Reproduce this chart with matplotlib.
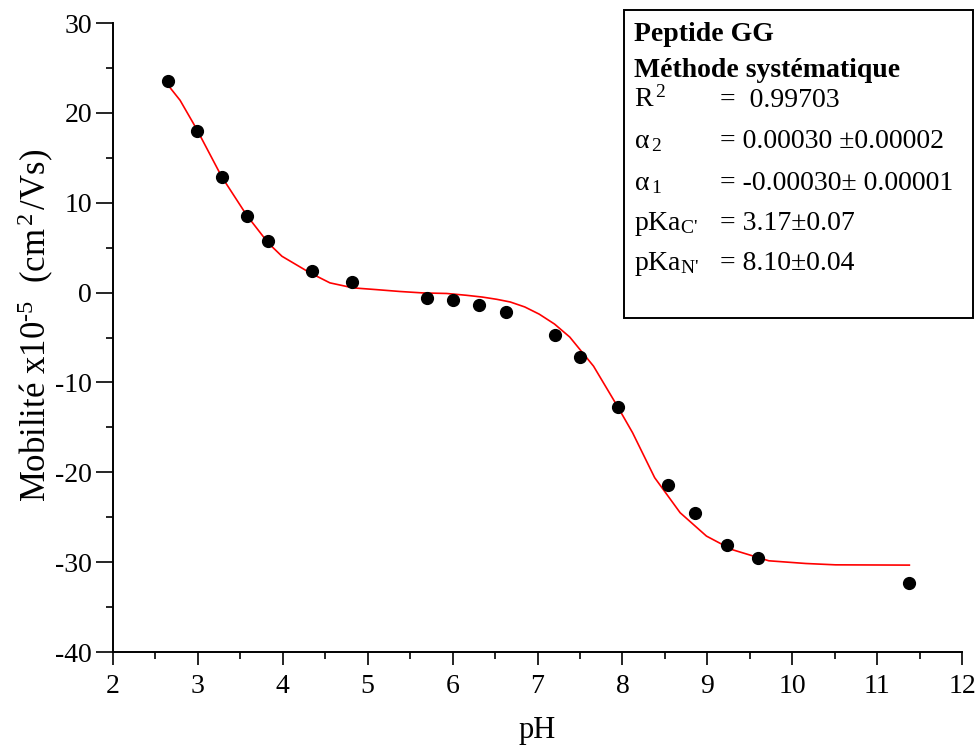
import numpy as np
import matplotlib.pyplot as plt
from matplotlib.patches import Rectangle
from matplotlib.ticker import MultipleLocator

plt.rcParams['font.family'] = ['Liberation Serif', 'DejaVu Serif']
plt.rcParams['mathtext.fontset'] = 'custom'
plt.rcParams['mathtext.rm'] = 'Liberation Serif'
plt.rcParams['mathtext.it'] = 'Liberation Serif'
plt.rcParams['mathtext.bf'] = 'Liberation Serif:bold'
plt.rcParams['axes.unicode_minus'] = False

# measured points
ph_data = [2.65, 2.985, 3.28, 3.575, 3.83, 4.34, 4.82, 5.70, 6.00, 6.31,
           6.63, 7.21, 7.50, 7.95, 8.54, 8.855, 9.23, 9.60, 11.38]
mob_data = [23.5, 18.0, 12.9, 8.56, 5.78, 2.44, 1.14, -0.63, -0.82, -1.35,
            -2.11, -4.74, -7.15, -12.78, -21.37, -24.56, -28.07, -29.56, -32.37]

# fitted curve
ph_fit = [2.63, 2.79, 2.985, 3.28, 3.575, 3.83, 3.99, 4.32, 4.555, 4.83,
          5.10, 5.38, 5.65, 5.93, 6.16, 6.35, 6.52, 6.68, 6.85, 7.02,
          7.2, 7.38, 7.66, 7.94, 8.12, 8.38, 8.68, 8.99, 9.29, 9.725,
          10.16, 10.51, 11.38]
mob_fit = [23.3, 21.4, 18.2, 12.9, 8.6, 5.5, 4.04, 2.2, 1.08, 0.52,
           0.33, 0.12, -0.04, -0.1, -0.3, -0.5, -0.75, -1.05, -1.6, -2.4,
           -3.5, -4.95, -8.19, -12.63, -15.6, -20.6, -24.5, -27.1, -28.6, -29.85,
           -30.15, -30.3, -30.33]

fig = plt.figure(figsize=(9.77, 7.48), dpi=100)
ax = fig.add_axes([113/977, 1-652/748, (962-113)/977, (652-23)/748])

ax.plot(ph_fit, mob_fit, color='red', lw=1.2, zorder=2)
ax.plot(ph_data, mob_data, 'o', color='black', ms=8.5, zorder=3)

ax.set_xlim(2, 12)
ax.set_ylim(-40, 30)
ax.xaxis.set_major_locator(MultipleLocator(1))
ax.xaxis.set_minor_locator(MultipleLocator(0.5))
ax.yaxis.set_major_locator(MultipleLocator(10))
ax.yaxis.set_minor_locator(MultipleLocator(5))

for s in ['top', 'right']:
    ax.spines[s].set_visible(False)
for s in ['left', 'bottom']:
    ax.spines[s].set_linewidth(1.4)

ax.tick_params(axis='both', which='major', direction='out', length=9, width=1.2, labelsize=20)
ax.tick_params(axis='both', which='minor', direction='out', length=5, width=1.2)
ax.tick_params(axis='y', which='major', length=12, pad=3)
ax.tick_params(axis='x', which='major', pad=7)

ax.set_xlabel('pH', fontsize=22, labelpad=12)
ax.set_ylabel(r'Mobilité x10$^{\text{-5}}$  (cm$^{\,2\,}$/Vs)', fontsize=25)
ax.yaxis.set_label_coords((56-113)/849, (652-325)/629)

# parameters box
W, H = 977, 748
fig.patches.append(Rectangle((624/W, 1-318/H), (973-624)/W, (318-10)/H,
                             transform=fig.transFigure, fill=False,
                             edgecolor='black', lw=1.4, zorder=5))

x0 = 634/W
x1 = 720/W
fs = 20
fig.text(x0, 1-41/H, 'Peptide GG', fontsize=fs, fontweight='bold', va='baseline')
fig.text(x0, 1-77/H, 'Méthode systématique', fontsize=fs, fontweight='bold', va='baseline')
rows = [(107, r'R$^{\,2}$', '=  0.99703'),
        (148, r'α$_{\,2}$', '= 0.00030 ±0.00002'),
        (190, r'α$_{\,1}$', '= -0.00030± 0.00001'),
        (230, r'pKa$_{\mathrm{C}\text{\'}}$', '= 3.17±0.07'),
        (270, r'pKa$_{\mathrm{N}\text{\'}}$', '= 8.10±0.04')]
for yp, lab, val in rows:
    fig.text(x0, 1-yp/H, lab, fontsize=fs, va='baseline')
    fig.text(x1, 1-yp/H, val, fontsize=fs, va='baseline')

fig.savefig('out.png', dpi=100)
